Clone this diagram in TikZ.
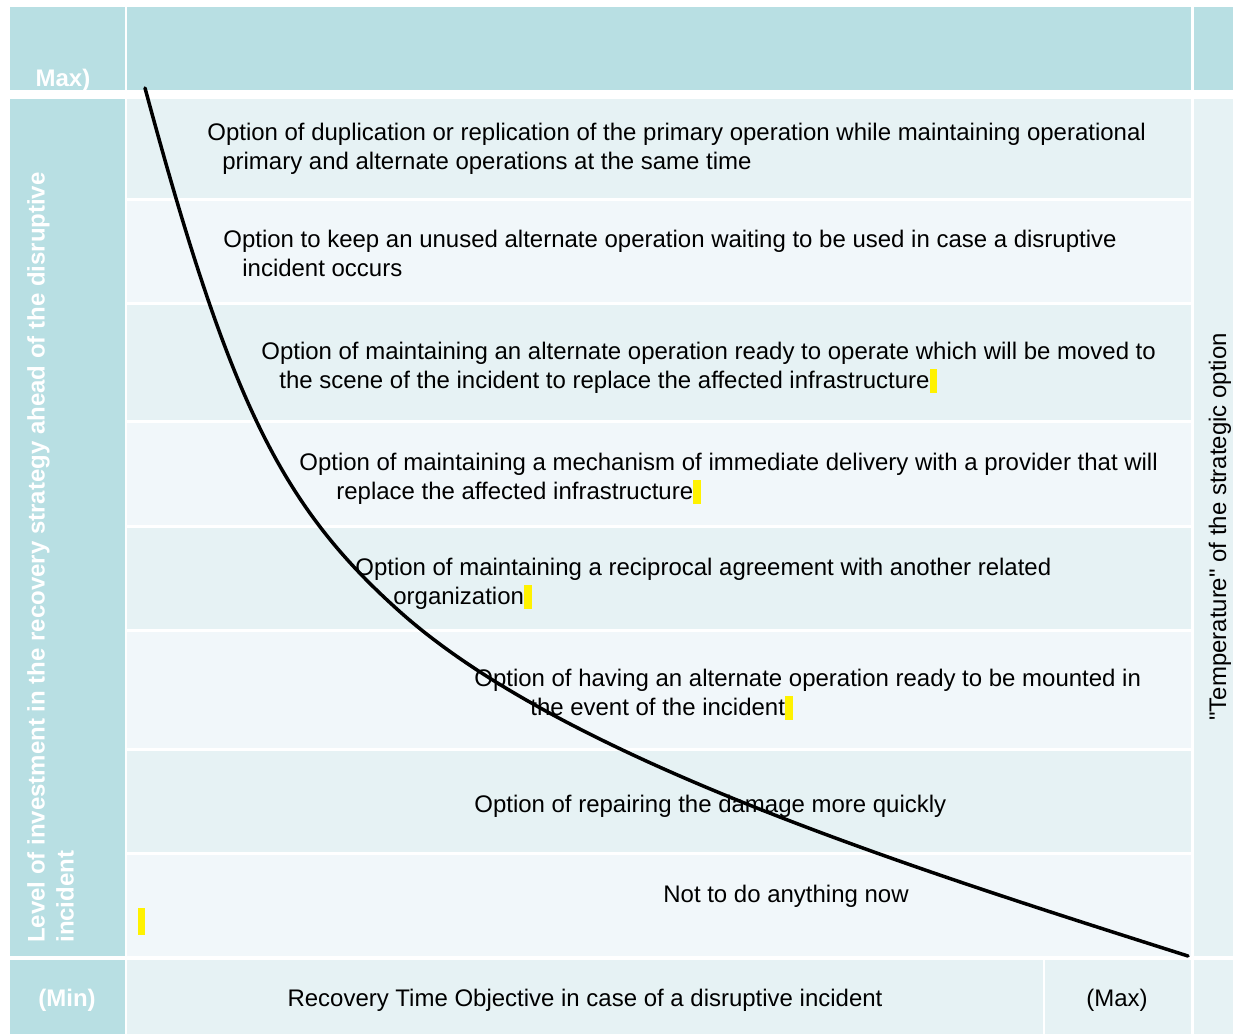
\documentclass[tikz,border=0pt]{standalone}
\usepackage{fontspec}
\setmainfont{Liberation Sans}
\usetikzlibrary{positioning}
\definecolor{headteal}{HTML}{B8DFE3}
\definecolor{rowdark}{HTML}{E6F2F4}
\definecolor{rowlight}{HTML}{F1F7FA}
\newcommand{\hlmark}{{\color{yellow}\rule[-0.08cm]{0.15cm}{0.48cm}}}
\begin{document}
\begin{tikzpicture}[x=0.02cm, y=-0.02cm,
		option/.style={anchor=north west, inner sep=0, align=left, font=\fontsize{13.65}{16.4}\selectfont},
		title/.style={inner sep=0, align=left, text=white, font=\fontsize{13.65}{16.4}\selectfont\bfseries},
		plain/.style={inner sep=0, font=\fontsize{13.65}{16.4}\selectfont},
		curve/.style={line width=0.07cm, line cap=round}]
		\fill[white] (0,0) rectangle (1233,1034); \useasboundingbox (0,0) rectangle (1233,1034);
		
		% Draw cells
		\fill[headteal] (10,7) rectangle (125,90); \fill[headteal] (127,7) rectangle (1191,90);
		\fill[headteal] (1194,7) rectangle (1233,90); \fill[headteal] (10,99) rectangle
		(125,956); \fill[rowdark] (1194,99) rectangle (1233,956);
		\fill[rowdark] (127,99) rectangle (1191,198); \fill[rowlight] (127,201) rectangle (1191,302);
		\fill[rowdark] (127,305) rectangle (1191,420); \fill[rowlight] (127,423) rectangle (1191,525);
		\fill[rowdark] (127,528) rectangle (1191,629); \fill[rowlight] (127,632) rectangle (1191,748);
		\fill[rowdark] (127,751) rectangle (1191,852); \fill[rowlight] (127,855) rectangle (1191,956);
		\fill[headteal] (10,960) rectangle (125,1034); \fill[rowdark] (127,960) rectangle (1043,1034);
		\fill[rowdark] (1045,960) rectangle (1191,1034); \fill[rowdark] (1194,960) rectangle (1233,1034);
		\fill[yellow] (138,908) rectangle (145,935);
		
		% Define nodes
		\node[title, anchor=base] (maxtop) at (63,87) {Max)}; \node[title, rotate=90, anchor=north
		west] (invest) at (27,943) {Level of investment in the recovery strategy ahead of the disruptive\\incident};
		\node[title] (min) at (67,1000) {(Min)}; \node[plain] (rto) at (585,1000) {Recovery Time
		Objective in case of a disruptive incident}; \node[plain] (maxbot) at (1117,1000) {(Max)};
		\node[plain, rotate=90] (temp) at (1220,527) {\textquotedbl Temperature\textquotedbl{} of the strategic option};
		
		\node[option] (dup) at (207,123) {Option of duplication or replication of the primary
		operation while maintaining operational\\\hspace*{0.30cm}primary and alternate operations at the same time};
		\node[option] (unused) at (223,230) {Option to keep an unused alternate operation waiting to
		be used in case a disruptive\\\hspace*{0.38cm}incident occurs};
		\node[option] (ready) at (261,342) {Option of maintaining an alternate operation ready to
		operate which will be moved to\\\hspace*{0.36cm}the scene of the incident to replace the affected infrastructure\hlmark};
		\node[option] (delivery) at (299,453) {Option of maintaining a mechanism of immediate delivery
		with a provider that will\\\hspace*{0.74cm}replace the affected infrastructure\hlmark};
		\node[option] (recip) at (355,558) {Option of maintaining a reciprocal agreement with another
		related\\\hspace*{0.76cm}organization\hlmark};
		\node[option] (mount) at (474,669) {Option of having an alternate operation ready to be
		mounted in\\\hspace*{1.12cm}the event of the incident\hlmark};
		\node[option] (repair) at (474,795) {Option of repairing the damage more quickly};
		\node[option] (nothing) at (663,885) {Not to do anything now};
		
		% Draw curve
		\coordinate (high) at (145,88); \coordinate (knee) at (398,610); \coordinate (low) at (1188,956);
		\draw[curve] (high) .. controls (229,399) and (280,504) .. (knee) .. controls (561,757)
		and (902,865) .. (low);
	\end{tikzpicture}
\end{document}
